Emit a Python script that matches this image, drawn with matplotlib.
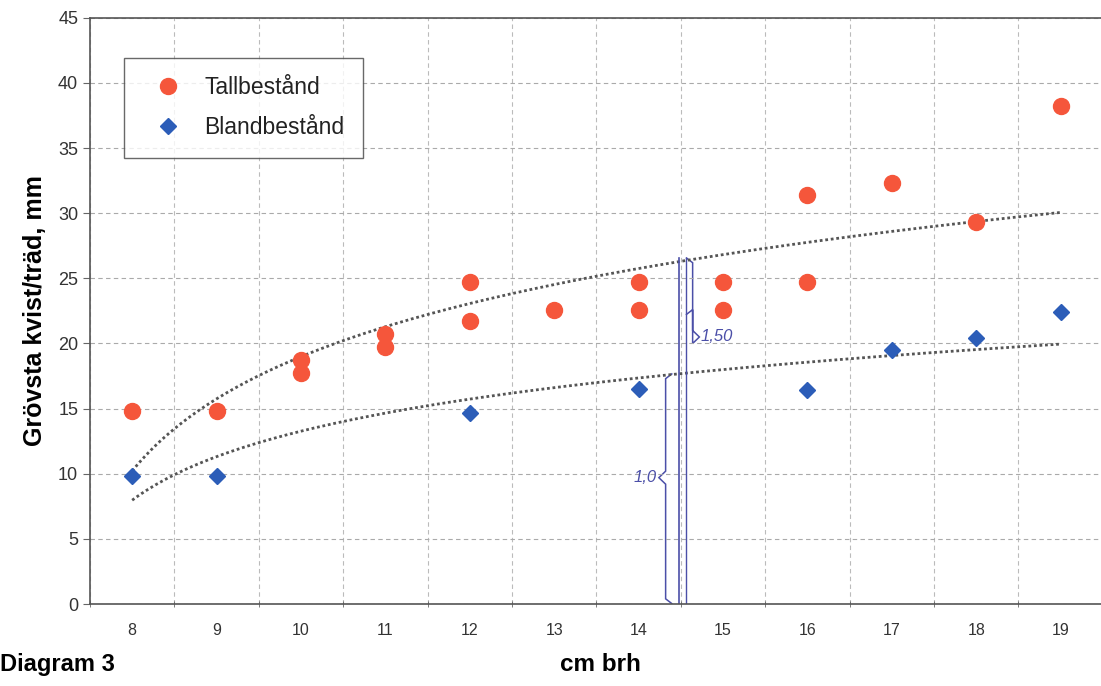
import numpy as np
import matplotlib.pyplot as plt
from matplotlib.path import Path
from matplotlib.patches import PathPatch

plt.rcParams['font.family'] = ['Liberation Sans', 'DejaVu Sans']

# diameter classes (cm brh)
klasser = [8, 9, 10, 11, 12, 13, 14, 15, 16, 17, 18, 19]

# Tallbestånd: (klass, grövsta kvist mm)
tall_x = [8, 9, 10, 10, 11, 11, 12, 12, 13, 14, 14, 15, 15, 16, 16, 17, 18, 19]
tall_y = [14.8, 14.8, 18.7, 17.7, 20.7, 19.7, 24.7, 21.7, 22.6, 24.7, 22.6,
          24.7, 22.6, 31.4, 24.7, 32.3, 29.3, 38.2]

# Blandbestånd
bland_x = [8, 9, 12, 14, 16, 17, 18, 19]
bland_y = [9.8, 9.8, 14.7, 16.5, 16.4, 19.5, 20.4, 22.4]

# handwritten note at 14.5 cm
note_x = 14.5
note_low = 17.7
note_high = 26.6

def idx(xs):
    return np.array([klasser.index(v) + 1 for v in xs], dtype=float)

def logfit(xs, ys):
    a, b = np.polyfit(np.log(idx(xs)), ys, 1)
    t = np.linspace(1, len(klasser), 200)
    return t - 1 + klasser[0], a * np.log(t) + b

fig = plt.figure(figsize=(11.01, 6.86), dpi=100)
ax = fig.add_axes([0.0817, 0.1195, 0.92, 0.8545])

ax.set_xlim(7.5, 19.5)
ax.set_ylim(0, 45)
ax.set_xticks(klasser)
ax.set_xticks(np.arange(7.5, 19.6, 1), minor=True)
ax.set_yticks(np.arange(0, 46, 5))
ax.tick_params(axis='x', which='major', length=0, pad=14, labelsize=11.5, labelcolor='#333333')
ax.tick_params(axis='x', which='minor', length=4, direction='inout', color='#666666')
ax.tick_params(axis='y', length=5, labelsize=13, labelcolor='#333333', color='#666666')
ax.grid(axis='x', which='minor', ls=(0, (4, 3)), color='#bbbbbb', lw=0.8)
ax.grid(axis='y', which='major', ls=(0, (4, 3)), color='#aaaaaa', lw=0.8)
for s in ['left', 'bottom', 'top']:
    ax.spines[s].set_color('#555555')
    ax.spines[s].set_linewidth(1.2)
ax.spines['right'].set_visible(False)

tx, ty = logfit(tall_x, tall_y)
bx, by = logfit(bland_x, bland_y)
ax.plot(tx, ty, ls=(0, (1, 1)), color='#555555', lw=2)
ax.plot(bx, by, ls=(0, (1, 1)), color='#555555', lw=2)

ax.plot(tall_x, tall_y, 'o', color='#F5563B', ms=11.5, label='Tallbestånd', zorder=5)
ax.plot(bland_x, bland_y, 'D', color='#2C5DB8', ms=8, label='Blandbestånd', zorder=5)

leg = ax.legend(loc='upper left', bbox_to_anchor=(0.034, 0.932), fontsize=16.5,
                frameon=True, fancybox=False, borderpad=0.8, labelspacing=0.75,
                handletextpad=0.5, handlelength=2.2, borderaxespad=0)
leg.get_frame().set_edgecolor('#444444')
leg.get_frame().set_linewidth(1.0)
for t in leg.get_texts():
    t.set_color('#222222')

# handwritten braces
pen = '#4b4fa8'
ax.plot([note_x - 0.02, note_x - 0.02], [0, note_high], color=pen, lw=1.2)
ax.plot([note_x + 0.06, note_x + 0.06], [0, note_high], color=pen, lw=1.0)

def brace(x, y0, y1, ytip, side, w=0.08):
    d = w * side
    verts = [(x, y0), (x + d, y0 + 0.4), (x + d, ytip - 0.5), (x + 2 * d, ytip),
             (x + d, ytip + 0.5), (x + d, y1 - 0.4), (x, y1)]
    codes = [Path.MOVETO] + [Path.LINETO] * 6
    ax.add_patch(PathPatch(Path(verts, codes), fill=False, color=pen, lw=1.1))

brace(note_x + 0.06, note_low + 4.5, note_high, 20.5, 1)
brace(note_x - 0.1, 0, note_low, 9.7, -1)
ax.text(note_x + 0.23, 20.5, '1,50', color=pen, fontsize=12,
        va='center', ha='left', style='italic')
ax.text(note_x - 0.28, 9.7, '1,0', color=pen, fontsize=12,
        va='center', ha='right', style='italic')

ax.set_ylabel('Grövsta kvist/träd, mm', fontsize=18, fontweight='bold', labelpad=8)
fig.text(0.545, 0.015, 'cm brh', fontsize=17.5, fontweight='bold', ha='center', va='bottom')
fig.text(0.0, 0.015, 'Diagram 3', fontsize=17, fontweight='bold', ha='left', va='bottom')

fig.savefig('out.png', dpi=100)
